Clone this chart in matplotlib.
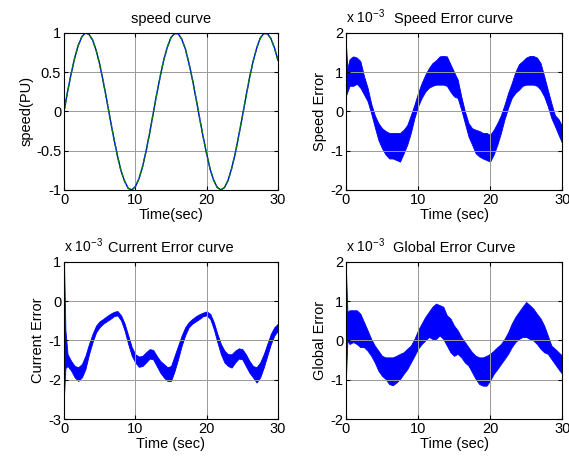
import matplotlib
matplotlib.use("Agg")
import matplotlib.pyplot as plt
import numpy as np

plt.rcParams['font.family'] = ['Liberation Sans', 'DejaVu Sans']
plt.rcParams['axes.unicode_minus'] = False
plt.rcParams['mathtext.default'] = 'regular'

# speed curve (PU), sampled every 0.5 s
speed_t = np.arange(0, 30.01, 0.5)
speed_pu = [0.00, 0.25, 0.48, 0.68, 0.84, 0.95, 1.00, 0.98, 0.91, 0.78, 0.60,
            0.38, 0.14, -0.11, -0.35, -0.57, -0.76, -0.89, -0.98, -1.00, -0.96,
            -0.86, -0.71, -0.51, -0.28, -0.03, 0.22, 0.45, 0.66, 0.82, 0.94,
            0.99, 0.99, 0.92, 0.80, 0.62, 0.41, 0.17, -0.08, -0.32, -0.54,
            -0.74, -0.88, -0.97, -1.00, -0.97, -0.88, -0.73, -0.54, -0.31, -0.07,
            0.18, 0.42, 0.63, 0.80, 0.93, 0.99, 0.99, 0.93, 0.81, 0.65]

# error bands (x 1e-3): upper / lower envelope of the ripple
err_t = [0, 0.2] + [0.5 * i for i in range(1, 61)]

speed_err_hi = [1.7, 1.1, 1.33, 1.4, 1.37, 1.28, 0.9, 0.6, 0.2, -0.1, -0.3,
                -0.43, -0.5, -0.55, -0.55, -0.55, -0.55, -0.47, -0.35, -0.1,
                0.17, 0.47, 0.72, 0.93, 1.1, 1.23, 1.3, 1.4, 1.41, 1.4, 1.2,
                1.0, 0.81, 0.38, 0.0, -0.3, -0.43, -0.47, -0.5, -0.55, -0.55,
                -0.6, -0.47, -0.3, -0.1, 0.17, 0.47, 0.72, 1.0, 1.2, 1.28, 1.37,
                1.41, 1.41, 1.37, 1.23, 0.9, 0.55, 0.21, -0.1, -0.2, -0.38]
speed_err_lo = [0.4, 0.5, 0.65, 0.65, 0.7, 0.6, 0.43, 0.26, -0.05, -0.4, -0.73,
                -0.94, -1.1, -1.2, -1.2, -1.24, -1.28, -1.07, -0.85, -0.55,
                -0.17, 0.13, 0.34, 0.5, 0.6, 0.65, 0.68, 0.68, 0.68, 0.65, 0.5,
                0.38, 0.34, 0.04, -0.3, -0.64, -0.85, -1.07, -1.15, -1.2, -1.24,
                -1.28, -1.1, -0.85, -0.55, -0.2, 0.09, 0.34, 0.47, 0.55, 0.65,
                0.68, 0.68, 0.68, 0.65, 0.55, 0.38, 0.13, -0.17, -0.38, -0.6,
                -0.81]

current_err_hi = [1.0, -0.75, -1.35, -1.52, -1.65, -1.68, -1.6, -1.39, -1.09,
                  -0.83, -0.62, -0.51, -0.45, -0.38, -0.32, -0.27, -0.25, -0.36,
                  -0.57, -0.87, -1.17, -1.35, -1.41, -1.39, -1.3, -1.22, -1.24,
                  -1.39, -1.52, -1.6, -1.68, -1.65, -1.39, -1.13, -0.87, -0.66,
                  -0.53, -0.45, -0.38, -0.33, -0.29, -0.26, -0.32, -0.53, -0.83,
                  -1.09, -1.26, -1.35, -1.35, -1.26, -1.2, -1.22, -1.35, -1.52,
                  -1.65, -1.68, -1.56, -1.35, -1.09, -0.83, -0.66, -0.57]
current_err_lo = [-2.4, -1.7, -1.65, -1.77, -1.94, -2.03, -1.94, -1.73, -1.35,
                  -1.04, -0.79, -0.66, -0.57, -0.51, -0.45, -0.38, -0.36, -0.49,
                  -0.75, -1.09, -1.39, -1.56, -1.67, -1.65, -1.56, -1.46, -1.48,
                  -1.65, -1.82, -1.94, -2.03, -2.03, -1.78, -1.47, -1.13, -0.86,
                  -0.66, -0.57, -0.51, -0.45, -0.38, -0.36, -0.45, -0.71, -1.04,
                  -1.35, -1.56, -1.65, -1.69, -1.56, -1.46, -1.48, -1.65, -1.82,
                  -1.94, -2.07, -1.94, -1.69, -1.39, -1.09, -0.87, -0.75]

global_err_hi = [1.8, 0.73, 0.77, 0.77, 0.77, 0.68, 0.47, 0.26, 0.04, -0.13,
                 -0.26, -0.39, -0.43, -0.43, -0.43, -0.39, -0.34, -0.3, -0.21,
                 -0.13, 0.04, 0.26, 0.43, 0.6, 0.73, 0.86, 0.94, 0.9, 0.86, 0.64,
                 0.56, 0.38, 0.26, 0.09, -0.04, -0.17, -0.3, -0.39, -0.43, -0.43,
                 -0.39, -0.34, -0.26, -0.17, -0.09, 0.04, 0.21, 0.43, 0.6, 0.73,
                 0.86, 0.98, 0.9, 0.81, 0.68, 0.56, 0.38, 0.13, -0.13, -0.21,
                 -0.3, -0.39]
global_err_lo = [-0.94, 0.0, -0.09, -0.04, -0.09, -0.17, -0.17, -0.26, -0.39,
                 -0.56, -0.77, -0.9, -0.98, -1.11, -1.14, -1.07, -0.98, -0.85,
                 -0.73, -0.56, -0.39, -0.21, -0.09, 0.0, 0.09, 0.04, 0.04, 0.13,
                 0.04, -0.13, -0.3, -0.39, -0.34, -0.43, -0.56, -0.64, -0.81,
                 -0.98, -1.11, -1.15, -1.15, -1.02, -0.85, -0.73, -0.6, -0.47,
                 -0.34, -0.17, -0.04, 0.04, 0.09, 0.09, 0.04, 0.0, -0.09, -0.21,
                 -0.3, -0.34, -0.47, -0.6, -0.73, -0.85]

fig = plt.figure(figsize=(5.69, 4.62), dpi=100)
fs = 10.5

def style(ax, yticks, ylabel, xlabel, title, scale=False):
    ax.set_xlim(0, 30)
    ax.set_xticks([0, 10, 20, 30])
    ax.set_ylim(yticks[0], yticks[-1])
    ax.set_yticks(yticks)
    ax.set_yticklabels(['%g' % v for v in yticks])
    ax.grid(True, color='#999999', linewidth=0.7)
    ax.tick_params(direction='in', top=True, right=True, length=3,
                   labelsize=fs, pad=2)
    ax.set_xlabel(xlabel, fontsize=fs, labelpad=1)
    ax.set_ylabel(ylabel, fontsize=fs, labelpad=2)
    ax.set_title(title, fontsize=fs, pad=7)
    for s in ax.spines.values():
        s.set_linewidth(0.8)
    if scale:
        ax.text(0, 1.045, 'x 10$^{-3}$', transform=ax.transAxes,
                fontsize=10, ha='left', va='bottom')

ax1 = fig.add_axes([0.1125, 0.589, 0.376, 0.34])
ax1.plot(speed_t, speed_pu, color='blue', lw=1.0)
ax1.plot(speed_t, speed_pu, color='#008000', lw=1.0, ls='--')
style(ax1, [-1, -0.5, 0, 0.5, 1], 'speed(PU)', 'Time(sec)', 'speed curve')

ax2 = fig.add_axes([0.608, 0.589, 0.38, 0.34])
ax2.fill_between(err_t, speed_err_lo, speed_err_hi, color='blue', lw=0.6)
style(ax2, [-2, -1, 0, 1, 2], 'Speed Error', 'Time (sec)',
      'Speed Error curve', scale=True)

ax3 = fig.add_axes([0.1125, 0.093, 0.376, 0.34])
ax3.fill_between(err_t, current_err_lo, current_err_hi, color='blue', lw=0.6)
style(ax3, [-3, -2, -1, 0, 1], 'Current Error', 'Time (sec)',
      'Current Error curve', scale=True)

ax4 = fig.add_axes([0.608, 0.093, 0.38, 0.34])
ax4.fill_between(err_t, global_err_lo, global_err_hi, color='blue', lw=0.6)
style(ax4, [-2, -1, 0, 1, 2], 'Global Error', 'Time (sec)',
      'Global Error Curve', scale=True)

fig.savefig('out.png', dpi=100)
